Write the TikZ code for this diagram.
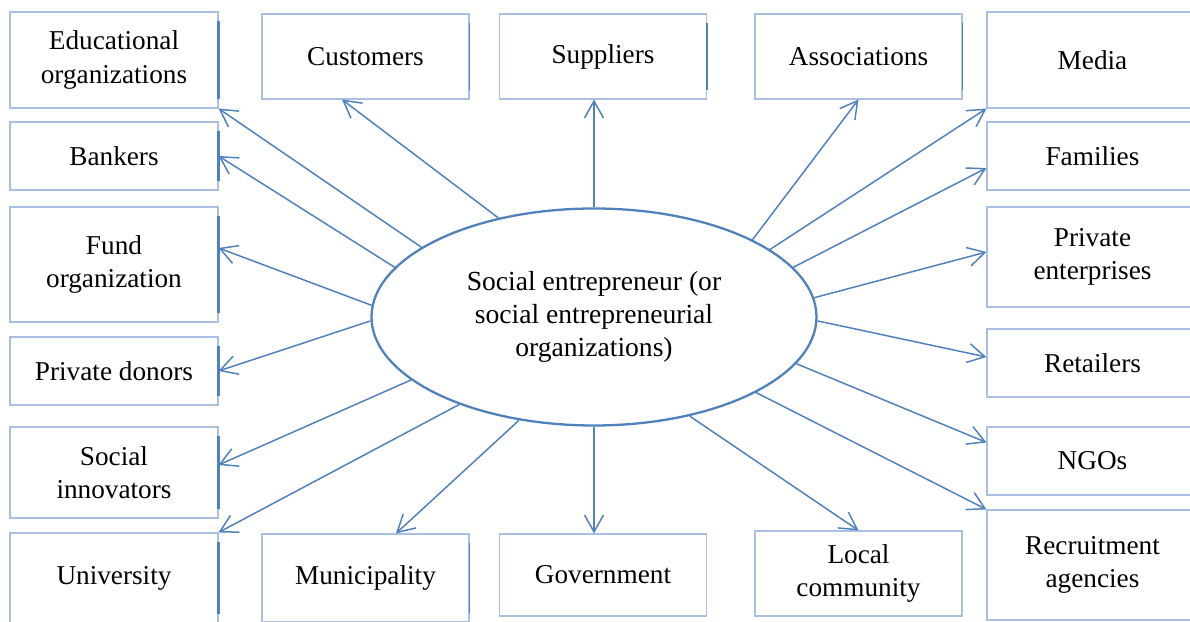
\documentclass[tikz,border=0pt]{standalone}
\usepackage{fontspec}
\setmainfont{Liberation Serif}
\usetikzlibrary{arrows.meta,shapes.geometric}

\definecolor{boxline}{HTML}{A9C0E3}
\definecolor{linkblue}{HTML}{4F81BD}

\tikzset{
	actor/.style={draw=boxline, line width=0.6pt, align=center, inner sep=0pt,
		font=\fontsize{15.5}{18.8}\selectfont},
	link/.style={-{Straight Barb[length=3.4mm,width=3.8mm]}, draw=linkblue, line width=0.85pt},
	sidebar/.style={draw=linkblue, line width=1.5pt},
}

\begin{document}
\begin{tikzpicture}
	\useasboundingbox (0,0) rectangle (23.8,12.44);

	% centre
	\node[draw=linkblue, line width=1.3pt, ellipse, minimum width=8.9cm, minimum height=4.34cm,
		inner sep=0pt, align=center, font=\fontsize{15.7}{18.8}\selectfont] (ent) at (11.88,6.1)
		{Social entrepreneur (or\\social entrepreneurial\\organizations)};

	% left column
	\node[actor, minimum width=4.16cm, minimum height=1.92cm] (edu) at (2.28,11.24) {Educational\\organizations};
	\node[actor, minimum width=4.16cm, minimum height=1.36cm] (bank) at (2.28,9.32) {Bankers};
	\node[actor, minimum width=4.16cm, minimum height=2.3cm] (fund) at (2.28,7.15) {Fund\\organization};
	\node[actor, minimum width=4.16cm, minimum height=1.36cm] (donor) at (2.28,5.02) {Private donors};
	\node[actor, minimum width=4.16cm, minimum height=1.82cm] (innov) at (2.28,2.99) {Social\\innovators};
	\node[actor, minimum width=4.16cm, minimum height=1.8cm] (univ) at (2.28,0.88) {University};

	% top row
	\node[actor, minimum width=4.14cm, minimum height=1.7cm] (cust) at (7.31,11.31) {Customers};
	\node[actor, minimum width=4.14cm, minimum height=1.7cm] (supp) at (12.06,11.31) {Suppliers};
	\node[actor, minimum width=4.14cm, minimum height=1.7cm] (assoc) at (17.17,11.31) {Associations};

	% right column, running off the edge
	\node[actor, minimum width=4.22cm, minimum height=1.92cm] (media) at (21.85,11.24) {Media};
	\node[actor, minimum width=4.22cm, minimum height=1.36cm] (fam) at (21.85,9.32) {Families};
	\node[actor, minimum width=4.22cm, minimum height=2.0cm] (priv) at (21.85,7.3) {Private\\enterprises};
	\node[actor, minimum width=4.22cm, minimum height=1.36cm] (ret) at (21.85,5.18) {Retailers};
	\node[actor, minimum width=4.22cm, minimum height=1.36cm] (ngo) at (21.85,3.22) {NGOs};
	\node[actor, minimum width=4.22cm, minimum height=2.2cm] (recr) at (21.85,1.14) {Recruitment\\agencies};

	% bottom row
	\node[actor, minimum width=4.14cm, minimum height=1.76cm] (muni) at (7.31,0.88) {Municipality};
	\node[actor, minimum width=4.14cm, minimum height=1.64cm] (gov) at (12.06,0.94) {Government};
	\node[actor, minimum width=4.14cm, minimum height=1.7cm] (local) at (17.17,0.97) {Local\\community};

	% darker right sides
	\foreach \b in {edu,bank,fund,donor,innov,univ}
		\draw[sidebar] ([yshift=-0.2cm]\b.north east) -- ([yshift=0.2cm]\b.south east);
	\foreach \b in {cust,supp,assoc,muni}
		\draw[sidebar, line width=0.8pt] ([yshift=-0.2cm]\b.north east) -- ([yshift=0.2cm]\b.south east);

	% arrows, left
	\draw[link] (ent.158) -- (edu.south east);
	\draw[link] (ent.166) -- (bank.east);
	\draw[link] (ent.177) -- ([yshift=0.33cm]fund.east);
	\draw[link] (ent.181) -- (donor.east);
	\draw[link] (ent.199) -- ([yshift=0.15cm]innov.east);
	\draw[link] (ent.213) -- (univ.north east);
	% up
	\draw[link] (ent.134) -- ([xshift=-0.47cm]cust.south);
	\draw[link] (ent.north) -- (ent.north |- supp.south);
	\draw[link] (ent.26) -- (assoc.south);
	% right
	\draw[link] (ent.21) -- (media.south west);
	\draw[link] (ent.14) -- ([yshift=-0.24cm]fam.west);
	\draw[link] (ent.5) -- ([yshift=0.1cm]priv.west);
	\draw[link] (ent.-1) -- ([yshift=0.12cm]ret.west);
	\draw[link] (ent.-13) -- ([yshift=-0.32cm]ngo.north west);
	\draw[link] (ent.-25) -- (recr.north west);
	% down
	\draw[link] (ent.234) -- ([xshift=0.61cm]muni.north);
	\draw[link] (ent.south) -- (ent.south |- gov.north);
	\draw[link] (ent.-46) -- (local.north);
\end{tikzpicture}
\end{document}
